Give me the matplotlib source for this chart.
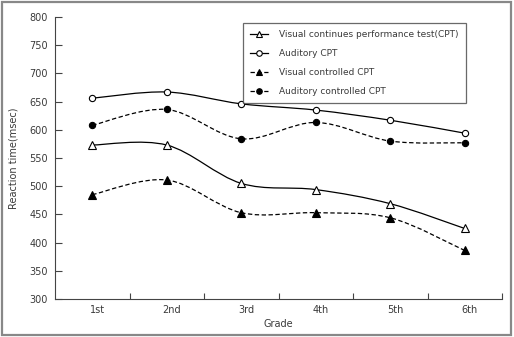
import matplotlib
matplotlib.use("Agg")
import matplotlib.pyplot as plt
import matplotlib.transforms as mtransforms
from matplotlib.path import Path
from matplotlib.patches import PathPatch, Rectangle
from matplotlib.lines import Line2D
import numpy as np

grades = ["1st", "2nd", "3rd", "4th", "5th", "6th"]
visual_cpt = [573, 573, 505, 494, 469, 425]
auditory_cpt = [656, 667, 646, 635, 617, 594]
visual_controlled = [485, 511, 453, 453, 444, 386]
auditory_controlled = [608, 636, 584, 613, 580, 577]
y_ticks = [300, 350, 400, 450, 500, 550, 600, 650, 700, 750, 800]

plt.rcParams['font.family'] = ['DejaVu Sans']
TXT = '#3a3a3a'

fig = plt.figure(figsize=(5.14, 3.37), dpi=100)
ax = fig.add_axes([55/514, 1-299/337, (502-55)/514, (299-17)/337])

x = np.arange(len(grades))


def smooth_path(xs, ys):
    pts = np.column_stack([xs, ys]).astype(float)
    n = len(pts)
    verts = [pts[0]]
    codes = [Path.MOVETO]
    for i in range(n - 1):
        p0 = pts[i - 1] if i > 0 else pts[i]
        p1 = pts[i]
        p2 = pts[i + 1]
        p3 = pts[i + 2] if i + 2 < n else pts[i + 1]
        c1 = p1 + (p2 - p0) / 6.0
        c2 = p2 - (p3 - p1) / 6.0
        verts += [c1, c2, p2]
        codes += [Path.CURVE4] * 3
    return Path(verts, codes)


series = [
    (visual_cpt, '-', '^', 'white', "Visual continues performance test(CPT)"),
    (auditory_cpt, '-', 'o', 'white', "Auditory CPT"),
    (visual_controlled, (0, (3.5, 2)), '^', 'black', "Visual controlled CPT"),
    (auditory_controlled, (0, (3.5, 2)), 'o', 'black', "Auditory controlled CPT"),
]

handles = []
for vals, ls, mk, fc, lab in series:
    patch = PathPatch(smooth_path(x, vals), fill=False, edgecolor='black',
                      linewidth=0.9, linestyle=ls, transform=ax.transData, zorder=2)
    ax.add_patch(patch)
    ax.plot(x, vals, linestyle='none', marker=mk, markersize=4.5 if mk == 'o' else 5.5,
            markerfacecolor=fc, markeredgecolor='black', markeredgewidth=0.8, zorder=3)
    handles.append(Line2D([0], [0], color='black', linewidth=0.9, linestyle=ls,
                          marker=mk, markersize=4, markerfacecolor=fc,
                          markeredgecolor='black', markeredgewidth=0.8))

ax.set_xlim(-0.5, len(grades) - 0.5)
ax.set_ylim(300, 800)
ax.set_yticks(y_ticks)
ax.set_xticks(x)
ax.set_xticklabels(grades)
ax.set_xticks(np.arange(0.5, len(grades), 1.0), minor=True)
ax.tick_params(axis='x', which='major', length=0, labelsize=7, labelcolor=TXT, pad=4)
ax.tick_params(axis='x', which='minor', direction='in', length=4, width=0.8, color='#444444')
ax.tick_params(axis='y', direction='in', length=5, width=0.8, color='#444444',
               labelsize=7, labelcolor=TXT, pad=5)
offset = mtransforms.ScaledTranslation(5/100, 0, fig.dpi_scale_trans)
for lbl in ax.get_xticklabels():
    lbl.set_transform(lbl.get_transform() + offset)
for s in ['top', 'right']:
    ax.spines[s].set_visible(False)
for s in ['left', 'bottom']:
    ax.spines[s].set_color('#444444')
    ax.spines[s].set_linewidth(0.8)

ax.set_xlabel("Grade", fontsize=7, color=TXT, labelpad=3)
ax.set_ylabel("Reaction time(msec)", fontsize=7, color=TXT, labelpad=8)

leg = fig.legend(handles, [s[4] for s in series], loc='upper left',
                 bbox_to_anchor=(243/514, 1-23/337), borderaxespad=0,
                 fontsize=6.5, frameon=True, fancybox=False, handlelength=2.0,
                 labelspacing=1.1, borderpad=0.8, handletextpad=1.2)
leg.get_frame().set_edgecolor('#444444')
leg.get_frame().set_linewidth(0.9)
for t in leg.get_texts():
    t.set_color(TXT)

fig.patches.append(Rectangle((2/514, 2/337), 1-5/514, 1-4/337, transform=fig.transFigure,
                             fill=False, edgecolor='#888888', linewidth=1.6))

fig.savefig("out.png", dpi=100)
